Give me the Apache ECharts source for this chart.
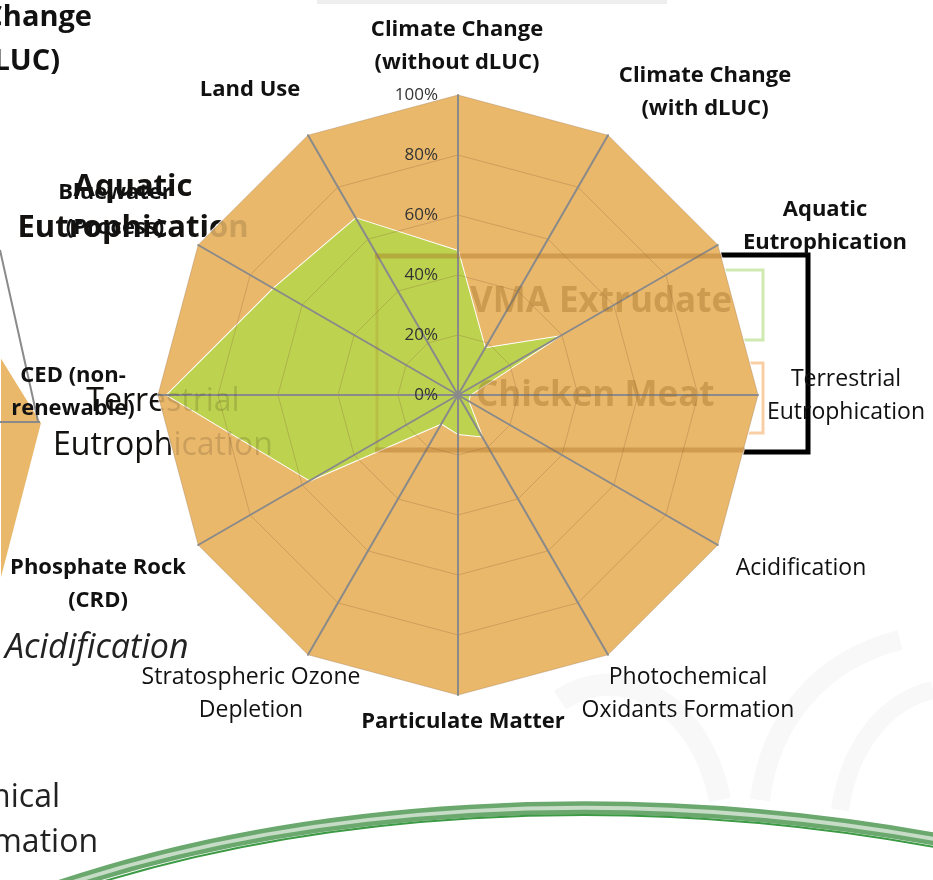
<!DOCTYPE html>
<html>
<head>
<meta charset="utf-8">
<script src="https://cdn.jsdelivr.net/npm/echarts@6/dist/echarts.min.js"></script>
<style>
  html, body { margin: 0; padding: 0; background: #fff; }
  #chart { width: 933px; height: 880px; }
</style>
</head>
<body>
<div id="chart"></div>
<script>
// categories, clockwise from the top
const categories = [
  'Climate Change\n(without dLUC)',
  'Climate Change\n(with dLUC)',
  'Aquatic\nEutrophication',
  'Terrestrial\nEutrophication',
  'Acidification',
  'Photochemical\nOxidants Formation',
  'Particulate Matter',
  'Stratospheric Ozone\nDepletion',
  'Phosphate Rock\n(CRD)',
  'CED (non-\nrenewable)',
  'Bluewater\n(Process)',
  'Land Use'
];
const boldNames = [true, true, true, false, false, false, true, false, true, true, true, true];
const chickenMeat = [100, 100, 100, 100, 100, 100, 100, 100, 100, 100, 100, 100];
const vmaExtrudate = [48, 18, 39, 4, 4, 16, 13, 11, 57, 97, 71, 68];
const tickLabels = ['0%', '20%', '40%', '60%', '80%', '100%'];

// label centres (layout only)
const labelPos = [
  [457, 46], [705, 92], [825, 226], [846, 396], [801, 568], [688, 694],
  [463, 722], [251, 694], [98, 584], [73, 392], [115, 210], [250, 90]
];

const ORANGE = '#EAB86B';
const GREEN = '#BDD34F';
const CX = 458, CY = 395, R = 300;

// ECharts lays radar indicators counter-clockwise, so flip the order after the first
function toRadarOrder(arr) {
  return [arr[0]].concat(arr.slice(1).reverse());
}

const indicators = toRadarOrder(categories).map((name, i) => {
  const ind = { name: name, min: 0, max: 100 };
  if (i === 0) {
    ind.axisLabel = {
      show: true,
      color: '#333',
      fontSize: 17,
      fontFamily: 'Open Sans',
      margin: 20,
      formatter: (v) => tickLabels[Math.round(v / 20)]
    };
  }
  return ind;
});

const chart = echarts.init(document.getElementById('chart'));

const labelFont = 'Open Sans';
const axisNameTexts = categories.map((name, i) => ({
  type: 'text',
  z: 20,
  x: labelPos[i][0],
  y: labelPos[i][1],
  style: {
    text: name,
    align: 'center',
    verticalAlign: 'middle',
    fontFamily: labelFont,
    fontSize: boldNames[i] ? 22 : 23,
    fontWeight: boldNames[i] ? 'bold' : 'normal',
    lineHeight: i === 10 ? 35 : 33,
    fill: '#111'
  }
}));

// leftovers of the neighbouring slide showing through
const behindTexts = [
  { x: 133, y: 208, text: 'Aquatic\nEutrophication', size: 31, weight: 'bold', lh: 41 },
  { x: 163, y: 424, text: 'Terrestrial\nEutrophication', size: 32, weight: 'normal', lh: 44 }
];
const backdrop = [];
behindTexts.forEach((t) => {
  backdrop.push({
    type: 'text', z: 0, x: t.x, y: t.y,
    style: { text: t.text, align: 'center', verticalAlign: 'middle', fontFamily: labelFont,
      fontSize: t.size, fontWeight: t.weight, lineHeight: t.lh, fill: '#111' }
  });
  backdrop.push({
    type: 'text', z: 15, x: t.x, y: t.y,
    style: { text: t.text, align: 'center', verticalAlign: 'middle', fontFamily: labelFont,
      fontSize: t.size, fontWeight: t.weight, lineHeight: t.lh, fill: 'rgba(40,25,10,0.16)' }
  });
});

const decorations = [
  // faint bar at top
  { type: 'rect', z: 0, shape: { x: 317, y: 0, width: 350, height: 4 }, style: { fill: '#eeeeee' } },
  // cut-off titles at the left
  { type: 'text', z: 20, x: 92, y: 18, style: { text: 'Climate Change', align: 'right', verticalAlign: 'middle', fontFamily: labelFont, fontSize: 29, fontWeight: 'bold', fill: '#111' } },
  { type: 'text', z: 20, x: 60, y: 62, style: { text: '(with dLUC)', align: 'right', verticalAlign: 'middle', fontFamily: labelFont, fontSize: 29, fontWeight: 'bold', fill: '#111' } },
  { type: 'text', z: 20, x: 5, y: 648, style: { text: 'Acidification', align: 'left', verticalAlign: 'middle', fontFamily: labelFont, fontSize: 34, fontStyle: 'italic', fill: '#222' } },
  { type: 'text', z: 20, x: 60, y: 798, style: { text: 'Photochemical', align: 'right', verticalAlign: 'middle', fontFamily: labelFont, fontSize: 32, fill: '#222' } },
  { type: 'text', z: 20, x: 98, y: 843, style: { text: 'Oxidants Formation', align: 'right', verticalAlign: 'middle', fontFamily: labelFont, fontSize: 32, fill: '#222' } },
  // piece of another radar at the left edge
  { type: 'polygon', z: 1, shape: { points: [[0, 355], [42, 423], [0, 585]] }, style: { fill: ORANGE, stroke: '#fff', lineWidth: 2 } },
  { type: 'line', z: 1, shape: { x1: 0, y1: 250, x2: 38, y2: 421 }, style: { stroke: '#8a8a8a', lineWidth: 2 } },
  { type: 'line', z: 1, shape: { x1: 0, y1: 422, x2: 40, y2: 422 }, style: { stroke: '#8a8a8a', lineWidth: 2 } },
  // legend frame behind the radar
  { type: 'rect', z: 0, shape: { x: 690, y: 255, width: 118, height: 197 }, style: { fill: 'none', stroke: '#000', lineWidth: 5 } },
  { type: 'rect', z: 0, shape: { x: 700, y: 270, width: 63, height: 70 }, style: { fill: '#fff', stroke: '#cfeab0', lineWidth: 3 } },
  { type: 'rect', z: 0, shape: { x: 700, y: 363, width: 63, height: 70 }, style: { fill: '#fff', stroke: '#f8cfa5', lineWidth: 3 } },
  // faded legend overlay in front
  { type: 'line', z: 15, shape: { x1: 375, y1: 256, x2: 722, y2: 256 }, style: { stroke: 'rgba(160,100,30,0.35)', lineWidth: 5 } },
  { type: 'line', z: 15, shape: { x1: 375, y1: 450, x2: 745, y2: 450 }, style: { stroke: 'rgba(160,100,30,0.35)', lineWidth: 5 } },
  { type: 'line', z: 15, shape: { x1: 377, y1: 258, x2: 377, y2: 448 }, style: { stroke: 'rgba(160,100,30,0.18)', lineWidth: 3 } },
  { type: 'text', z: 15, x: 470, y: 302, style: { text: 'VMA Extrudate', align: 'left', verticalAlign: 'middle', fontFamily: labelFont, fontSize: 35, fontWeight: 'bold', fill: 'rgba(150,100,30,0.35)' } },
  { type: 'text', z: 15, x: 476, y: 396, style: { text: 'Chicken Meat', align: 'left', verticalAlign: 'middle', fontFamily: labelFont, fontSize: 35, fontWeight: 'bold', fill: 'rgba(150,100,30,0.35)' } },
  // watermark leaves
  { type: 'bezierCurve', z: 0, shape: { x1: 560, y1: 700, cpx1: 620, cpy1: 660, cpx2: 700, cpy2: 700, x2: 720, y2: 800 }, style: { stroke: '#f8f8f8', lineWidth: 22, fill: 'none' } },
  { type: 'bezierCurve', z: 0, shape: { x1: 760, y1: 800, cpx1: 770, cpy1: 720, cpx2: 820, cpy2: 660, x2: 900, y2: 640 }, style: { stroke: '#f8f8f8', lineWidth: 20, fill: 'none' } },
  { type: 'bezierCurve', z: 0, shape: { x1: 840, y1: 810, cpx1: 850, cpy1: 740, cpx2: 890, cpy2: 700, x2: 933, y2: 690 }, style: { stroke: '#f8f8f8', lineWidth: 18, fill: 'none' } },
  // green swoosh at the bottom
  { type: 'bezierCurve', z: 1, shape: { x1: 55, y1: 888, cpx1: 300, cpy1: 805, cpx2: 620, cpy2: 782, x2: 940, y2: 840 }, style: { stroke: '#6aa86e', lineWidth: 13, fill: 'none' } },
  { type: 'bezierCurve', z: 1, shape: { x1: 55, y1: 888, cpx1: 300, cpy1: 805, cpx2: 620, cpy2: 782, x2: 940, y2: 840 }, style: { stroke: '#c6dcc6', lineWidth: 4, fill: 'none' } },
  { type: 'bezierCurve', z: 1, shape: { x1: 61, y1: 895, cpx1: 306, cpy1: 812, cpx2: 620, cpy2: 789, x2: 940, y2: 848 }, style: { stroke: '#3c9a44', lineWidth: 2, fill: 'none' } }
];

const option = {
  animation: false,
  backgroundColor: '#fff',
  radar: {
    z: 3,
    center: [CX, CY],
    radius: R,
    startAngle: 90,
    splitNumber: 5,
    shape: 'polygon',
    indicator: indicators,
    axisName: { show: false },
    axisLine: { lineStyle: { color: '#8a8a8a', width: 2 } },
    splitLine: { lineStyle: { color: 'rgba(140,100,60,0.3)', width: 1 } },
    splitArea: { show: false },
    axisTick: { show: false },
    axisLabel: { show: false }
  },
  series: [
    {
      type: 'radar',
      z: 2,
      symbol: 'none',
      data: [
        {
          name: 'Chicken Meat',
          value: toRadarOrder(chickenMeat),
          lineStyle: { color: '#ffffff', width: 2.5 },
          areaStyle: { color: ORANGE, opacity: 1 }
        },
        {
          name: 'VMA Extrudate',
          value: toRadarOrder(vmaExtrudate),
          lineStyle: { color: '#ffffff', width: 2 },
          areaStyle: { color: GREEN, opacity: 1 }
        }
      ]
    }
  ],
  graphic: { elements: backdrop.concat(decorations, axisNameTexts) }
};

chart.setOption(option);
</script>
</body>
</html>
